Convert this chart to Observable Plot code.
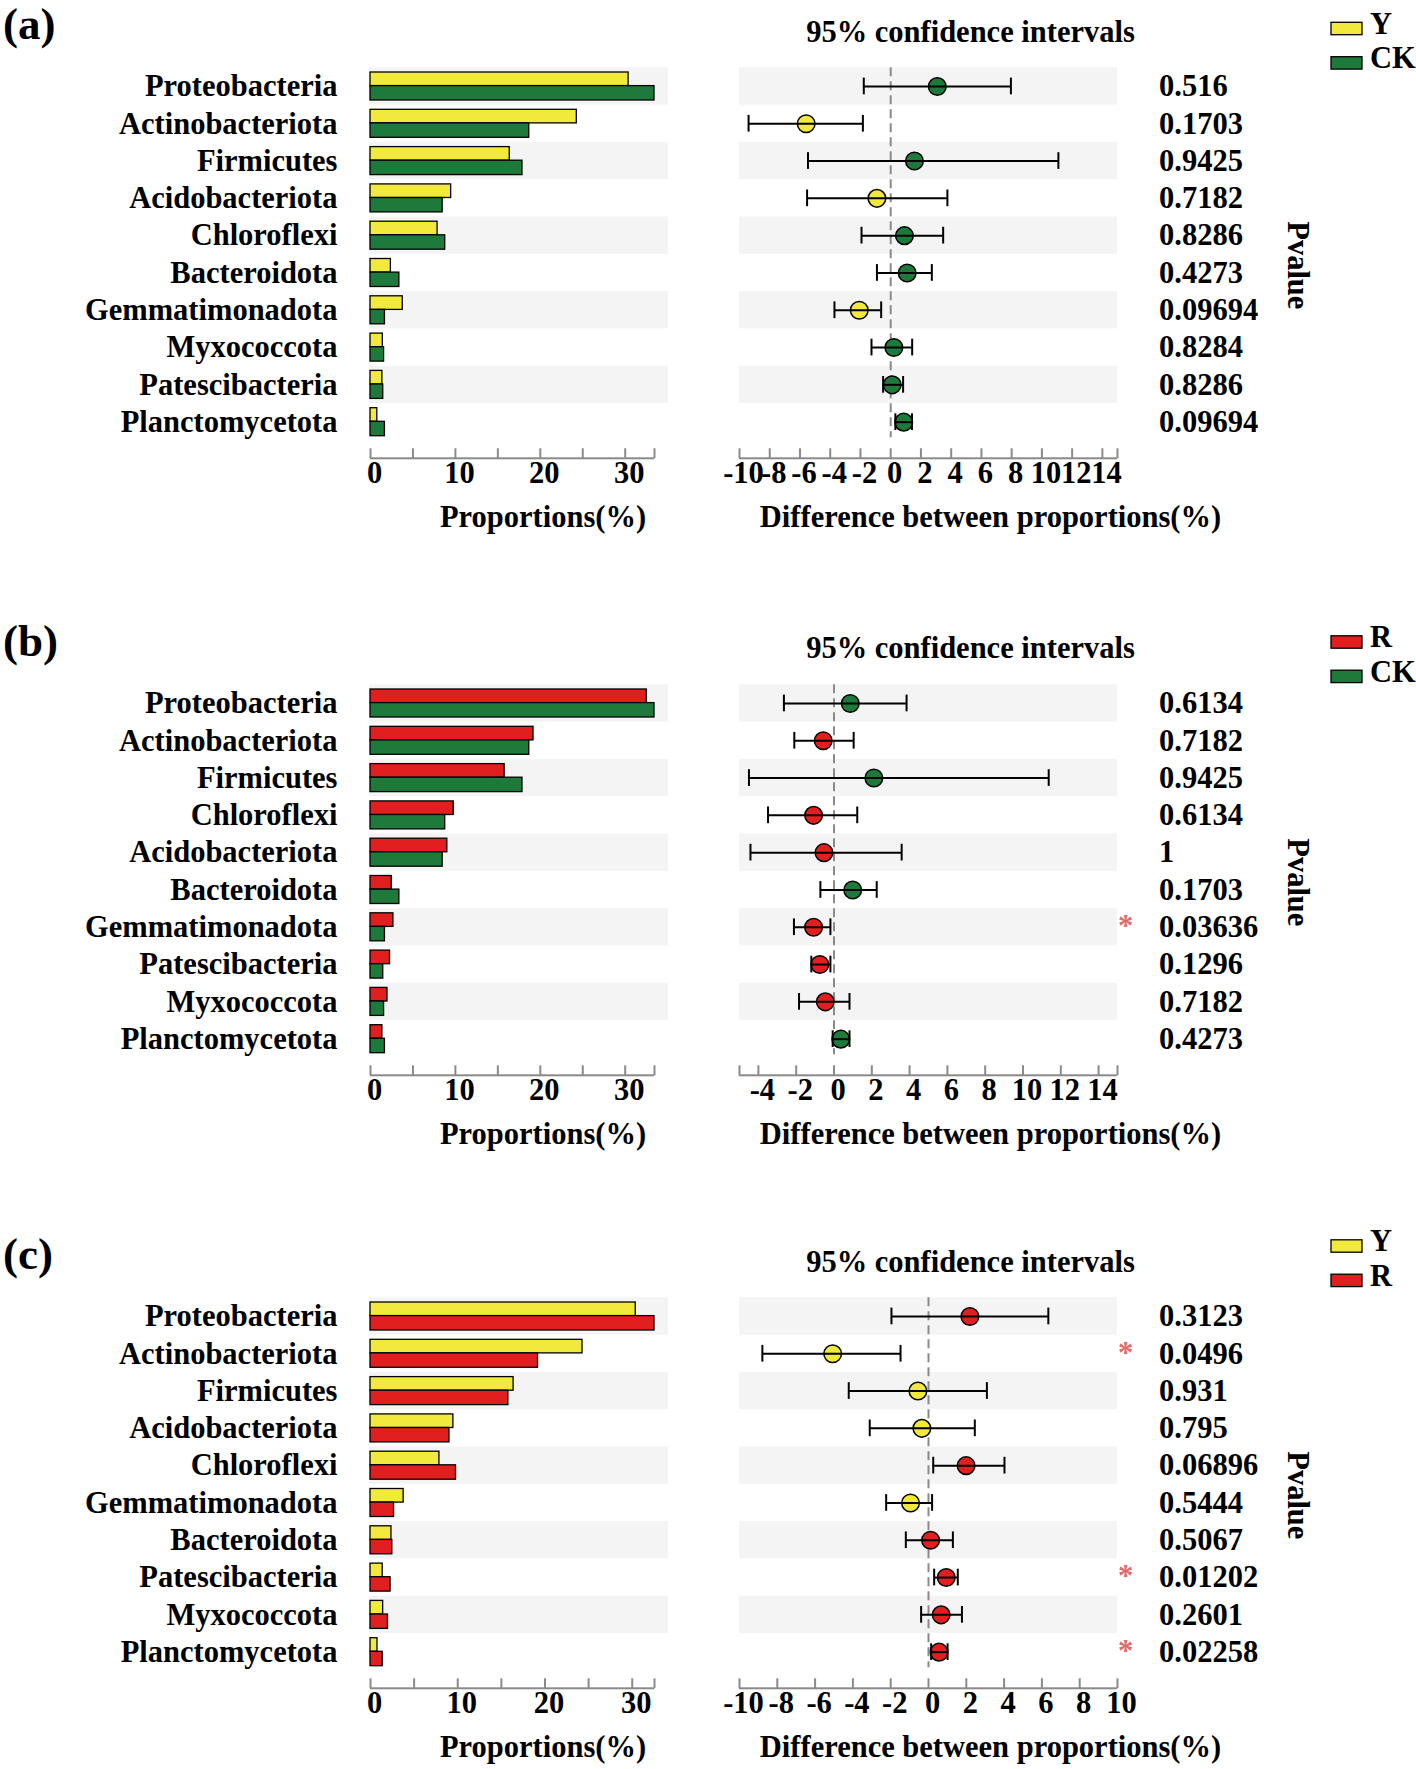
<!DOCTYPE html>
<html>
<head>
<meta charset="utf-8">
<script src="https://cdn.jsdelivr.net/npm/d3@7"></script>
<script src="https://cdn.jsdelivr.net/npm/@observablehq/plot@0.6"></script>
<style>
html, body { margin: 0; padding: 0; background: #fff; }
#root { position: relative; width: 1416px; height: 1769px; overflow: hidden; background: #fff; }
</style>
</head>
<body>
<div id="root"></div>
<script>
// ---------- colours ----------
const COLORS = {Y: "#f1e93c", CK: "#1d7a3a", R: "#e21f1f"};
const BAND = "#f4f4f4", AXIS = "#8a8a8a", STAR = "#e06a6a";
const FONT = "'Liberation Serif','Times New Roman',Times,serif";

// ---------- shared tick labels / titles ----------
const propTickLabels = [0, 10, 20, 30];
const propTickMarks = [0, 5, 10, 15, 20, 25, 30];
const propTitle = "Proportions(%)";
const diffTitle = "Difference between proportions(%)";
const ciTitle = "95% confidence intervals";
const pvalueTitle = "Pvalue";

// ---------- panel (a): Y vs CK ----------
const aNames = ["Proteobacteria","Actinobacteriota","Firmicutes","Acidobacteriota","Chloroflexi","Bacteroidota","Gemmatimonadota","Myxococcota","Patescibacteria","Planctomycetota"];
const aGroups = ["Y", "CK"];
const aProp1 = [30.4, 24.3, 16.4, 9.5, 7.9, 2.4, 3.8, 1.45, 1.4, 0.8];
const aProp2 = [33.45, 18.7, 17.9, 8.5, 8.8, 3.4, 1.7, 1.6, 1.5, 1.7];
const aDiff = [3.08, -5.59, 1.57, -0.91, 0.91, 1.09, -2.08, 0.21, 0.1, 0.86];
const aLow = [-1.78, -9.40, -5.47, -5.53, -1.93, -0.91, -3.72, -1.27, -0.5, 0.31];
const aHigh = [7.95, -1.84, 11.09, 3.75, 3.47, 2.72, -0.63, 1.42, 0.82, 1.41];
const aP = ["0.516","0.1703","0.9425","0.7182","0.8286","0.4273","0.09694","0.8284","0.8286","0.09694"];
const aDiffDomain = [-10, 15];
const aDiffTicks = [-10, -8, -6, -4, -2, 0, 2, 4, 6, 8, 10, 12, 14];

// ---------- panel (b): R vs CK ----------
const bNames = ["Proteobacteria","Actinobacteriota","Firmicutes","Chloroflexi","Acidobacteriota","Bacteroidota","Gemmatimonadota","Patescibacteria","Myxococcota","Planctomycetota"];
const bGroups = ["R", "CK"];
const bProp1 = [32.55, 19.2, 15.8, 9.8, 9.05, 2.5, 2.7, 2.3, 2.0, 1.4];
const bProp2 = [33.45, 18.7, 17.9, 8.8, 8.5, 3.4, 1.7, 1.5, 1.6, 1.7];
const bDiff = [0.86, -0.57, 2.11, -1.08, -0.53, 0.99, -1.08, -0.75, -0.46, 0.36];
const bLow = [-2.65, -2.1, -4.5, -3.49, -4.42, -0.72, -2.12, -1.2, -1.85, -0.07];
const bHigh = [3.84, 1.04, 11.36, 1.23, 3.58, 2.26, -0.19, -0.19, 0.82, 0.82];
const bP = ["0.6134","0.7182","0.9425","0.6134","1","0.1703","0.03636","0.1296","0.7182","0.4273"];
const bDiffDomain = [-5, 15];
const bDiffTicks = [-4, -2, 0, 2, 4, 6, 8, 10, 12, 14];

// ---------- panel (c): Y vs R ----------
const cNames = ["Proteobacteria","Actinobacteriota","Firmicutes","Acidobacteriota","Chloroflexi","Gemmatimonadota","Bacteroidota","Patescibacteria","Myxococcota","Planctomycetota"];
const cGroups = ["Y", "R"];
const cProp1 = [30.4, 24.3, 16.4, 9.5, 7.9, 3.8, 2.4, 1.4, 1.45, 0.8];
const cProp2 = [32.55, 19.2, 15.8, 9.05, 9.8, 2.7, 2.5, 2.3, 2.0, 1.4];
const cDiff = [2.19, -5.07, -0.56, -0.35, 1.99, -0.95, 0.11, 0.94, 0.67, 0.56];
const cLow = [-1.96, -8.79, -4.22, -3.11, 0.25, -2.24, -1.2, 0.3, -0.39, 0.14];
const cHigh = [6.34, -1.48, 3.09, 2.45, 4.02, 0.19, 1.29, 1.55, 1.77, 1.01];
const cP = ["0.3123","0.0496","0.931","0.795","0.06896","0.5444","0.5067","0.01202","0.2601","0.02258"];
const cDiffDomain = [-10, 10];
const cDiffTicks = [-10, -8, -6, -4, -2, 0, 2, 4, 6, 8, 10];

const panelLetters = ["(a)", "(b)", "(c)"];

// ---------- layout ----------
const panels = [
  {letter: panelLetters[0], names: aNames, groups: aGroups, p1: aProp1, p2: aProp2, diff: aDiff, lo: aLow, hi: aHigh, p: aP, dom: aDiffDomain, ticks: aDiffTicks, top: 0, legendTop: 0},
  {letter: panelLetters[1], names: bNames, groups: bGroups, p1: bProp1, p2: bProp2, diff: bDiff, lo: bLow, hi: bHigh, p: bP, dom: bDiffDomain, ticks: bDiffTicks, top: 616.7, legendTop: 613.5},
  {letter: panelLetters[2], names: cNames, groups: cGroups, p1: cProp1, p2: cProp2, diff: cDiff, lo: cLow, hi: cHigh, p: cP, dom: cDiffDomain, ticks: cDiffTicks, top: 1230.4, legendTop: 1217.5}
];

const H = 538, MT = 67.3, AXIS_Y = 458.3, MB = H - AXIS_Y, ROW = 37.3;
const FRAME_H = AXIS_Y - MT;
const plotStyle = {fontFamily: FONT, fontSize: "30.5px", fontWeight: "bold", background: "transparent", color: "black", overflow: "visible"};
const hyphenFormat = d => String(d);

const root = document.getElementById("root");

function place(el, left, top) {
  el.style.position = "absolute";
  el.style.left = left + "px";
  el.style.top = top + "px";
  el.style.maxWidth = "none";
  root.appendChild(el);
}

function leftPlot(P) {
  const rows = P.names.map((name, i) => ({name, g1: P.p1[i], g2: P.p2[i]}));
  const xmax = d3.max(rows, d => Math.max(d.g1, d.g2));
  const bandRows = rows.filter((d, i) => i % 2 === 0);
  const W = 680, ML = 370, MR = 12;
  return Plot.plot({
    width: W, height: H, marginLeft: ML, marginRight: MR, marginTop: MT, marginBottom: MB,
    style: plotStyle,
    x: {domain: [0, xmax], range: [ML, 654]},
    y: {domain: P.names, range: [MT, MT + ROW * P.names.length], padding: 0, round: false},
    marks: [
      Plot.barX(bandRows, {y: "name", x1: () => 0, x2: () => xmax, insetLeft: -1, insetRight: -14, fill: BAND}),
      Plot.barX(rows, {y: "name", x1: () => 0, x2: "g1", fill: COLORS[P.groups[0]], stroke: "black", strokeWidth: 1.3, insetTop: 4.7, insetBottom: 19}),
      Plot.barX(rows, {y: "name", x1: () => 0, x2: "g2", fill: COLORS[P.groups[1]], stroke: "black", strokeWidth: 1.3, insetTop: 18.3, insetBottom: 4.6}),
      Plot.barX([xmax], {x1: () => 0, x2: d => d, insetTop: FRAME_H - 1, insetBottom: -1, fill: AXIS}),
      Plot.ruleX([...propTickMarks, xmax], {x: d => d, insetTop: FRAME_H - 10, stroke: AXIS, strokeWidth: 2}),
      Plot.axisX(propTickLabels, {tickSize: 0, tickPadding: 3, dx: 4, label: null, tickFormat: hyphenFormat}),
      Plot.axisY({tickSize: 0, tickPadding: 33, label: null}),
      Plot.text([propTitle], {frameAnchor: "bottom", textAnchor: "middle", dx: 23.5, dy: 68})
    ]
  });
}

function rightPlot(P) {
  const rows = P.names.map((name, i) => ({name, diff: P.diff[i], lo: P.lo[i], hi: P.hi[i], p: P.p[i]}));
  const bandRows = rows.filter((d, i) => i % 2 === 0);
  const tickMarks = Array.from(new Set([P.dom[0], ...P.ticks, P.dom[1]]));
  const W = 716, ML = 39, MR = 299;
  const rowsBottom = MT + ROW * P.names.length;
  return Plot.plot({
    width: W, height: H, marginLeft: ML, marginRight: MR, marginTop: MT, marginBottom: MB,
    style: plotStyle,
    x: {domain: P.dom},
    y: {domain: P.names, range: [MT, rowsBottom], padding: 0, round: false, axis: null},
    marks: [
      Plot.barX(bandRows, {y: "name", x1: () => P.dom[0], x2: () => P.dom[1], fill: BAND}),
      Plot.ruleX([0], {stroke: AXIS, strokeWidth: 2, strokeDasharray: "9,5", insetBottom: AXIS_Y - rowsBottom + 3}),
      Plot.dot(rows, {x: "diff", y: "name", r: 8.8, fill: d => d.diff > 0 ? COLORS[P.groups[1]] : COLORS[P.groups[0]], stroke: "black", strokeWidth: 1.5}),
      Plot.ruleY(rows, {y: "name", x1: "lo", x2: "hi", stroke: "black", strokeWidth: 2}),
      Plot.tickX(rows, {x: "lo", y: "name", insetTop: 10.3, insetBottom: 10.3, stroke: "black", strokeWidth: 2}),
      Plot.tickX(rows, {x: "hi", y: "name", insetTop: 10.3, insetBottom: 10.3, stroke: "black", strokeWidth: 2}),
      Plot.barX([P.dom], {x1: d => d[0], x2: d => d[1], insetTop: FRAME_H - 1, insetBottom: -1, fill: AXIS}),
      Plot.ruleX(tickMarks, {x: d => d, insetTop: FRAME_H - 10, stroke: AXIS, strokeWidth: 2}),
      Plot.axisX(P.ticks, {tickSize: 0, tickPadding: 3, dx: 4, label: null, tickFormat: hyphenFormat}),
      Plot.text(rows, {y: "name", text: "p", frameAnchor: "right", dx: 41.5, textAnchor: "start"}),
      Plot.text(rows.filter(d => +d.p < 0.05), {y: "name", text: () => "*", frameAnchor: "right", textAnchor: "middle", dx: 8, dy: -1, fill: STAR}),
      Plot.text([diffTitle], {frameAnchor: "bottom", textAnchor: "middle", dx: 62, dy: 68}),
      Plot.text([pvalueTitle], {frameAnchor: "right", textAnchor: "middle", dx: 180.5, dy: 2, rotate: 90})
    ]
  });
}

for (const P of panels) {
  place(leftPlot(P), 0, P.top);
  place(rightPlot(P), 700, P.top);
}

// ---------- overlay: panel letters, CI title, legends ----------
const overlay = d3.select(root).append("svg")
  .attr("width", 1416).attr("height", 1769)
  .style("position", "absolute").style("left", "0px").style("top", "0px")
  .style("pointer-events", "none")
  .style("font-family", FONT).style("font-weight", "bold");

for (const P of panels) {
  overlay.append("text").attr("x", 3).attr("y", 39 + P.top).attr("font-size", 45).text(P.letter);
  overlay.append("text").attr("x", 970.5).attr("y", 41.7 + P.top).attr("font-size", 30.5)
    .attr("text-anchor", "middle").text(ciTitle);
  P.groups.forEach((g, i) => {
    const y0 = P.legendTop + 22.3 + i * 34.4;
    overlay.append("rect").attr("x", 1331).attr("y", y0).attr("width", 31).attr("height", 12.4)
      .attr("fill", COLORS[g]).attr("stroke", "black").attr("stroke-width", 1.3);
    overlay.append("text").attr("x", 1370).attr("y", y0 + 11.5).attr("font-size", 30.5).text(g);
  });
}
</script>
</body>
</html>
